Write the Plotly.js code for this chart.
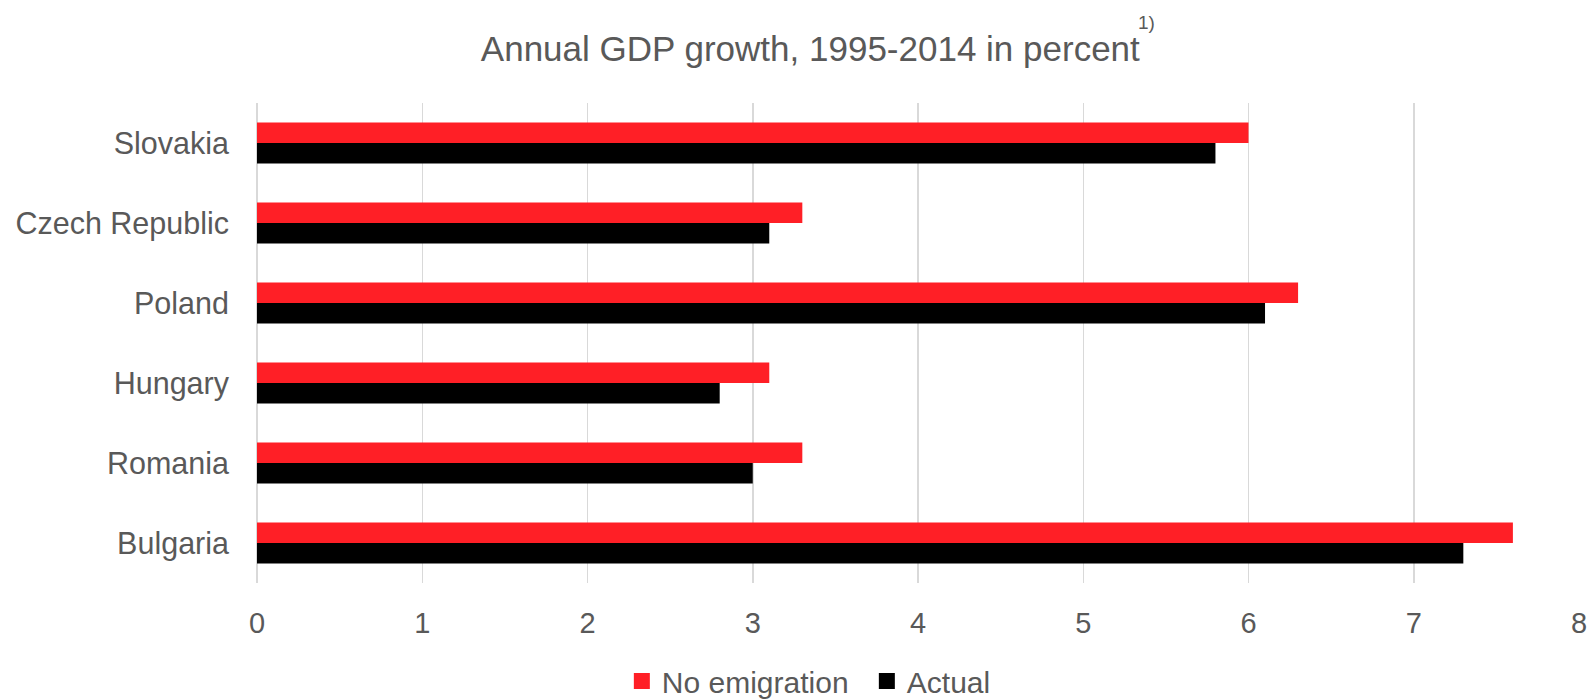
<!DOCTYPE html>
<html>
<head>
<meta charset="utf-8">
<script src="https://cdn.plot.ly/plotly-3.0.1.min.js"></script>
<style>html,body{margin:0;padding:0;background:#fff;}#chart{width:1592px;height:700px;}</style>
</head>
<body>
<div id="chart"></div>
<script>
var countries = ["Slovakia", "Czech Republic", "Poland", "Hungary", "Romania", "Bulgaria"];
var noEmigration = [6.0, 3.3, 6.3, 3.1, 3.3, 7.6];
var actual = [5.8, 3.1, 6.1, 2.8, 3.0, 7.3];
var xTicks = [0, 1, 2, 3, 4, 5, 6, 7, 8];
var seriesNames = ["No emigration", "Actual"];
var seriesColors = ["#FF1F26", "#000000"];

var FONT = "Liberation Sans, Arial, Helvetica, sans-serif";
var TXT = "#595959";

var traces = [
  {type: "bar", orientation: "h", name: seriesNames[0], y: countries, x: noEmigration,
   marker: {color: seriesColors[0], line: {width: 0}}, showlegend: false},
  {type: "bar", orientation: "h", name: seriesNames[1], y: countries, x: actual,
   marker: {color: seriesColors[1], line: {width: 0}}, showlegend: false},
  {type: "scatter", mode: "markers", name: seriesNames[0], x: [null], y: [null],
   marker: {symbol: "square", size: 16, color: seriesColors[0]}, showlegend: true},
  {type: "scatter", mode: "markers", name: seriesNames[1], x: [null], y: [null],
   marker: {symbol: "square", size: 16, color: seriesColors[1]}, showlegend: true}
];

var layout = {
  width: 1592, height: 700,
  paper_bgcolor: "#fff", plot_bgcolor: "#fff",
  margin: {l: 257, r: 13, t: 103, b: 117},
  font: {family: FONT, color: TXT, size: 30},
  title: {text: "Annual GDP growth, 1995-2014 in percent", font: {family: FONT, size: 35, color: TXT},
          x: 0.509, xref: "container", y: 0.93, yref: "container", xanchor: "center", yanchor: "middle"},
  annotations: [{text: "1)", xref: "paper", yref: "paper", x: 0.665, y: 1.168, showarrow: false,
                 font: {family: FONT, size: 19, color: TXT}, xanchor: "left", yanchor: "middle"}],
  barmode: "group", bargap: 0.49, bargroupgap: 0,
  xaxis: {range: [0, 8], tickvals: xTicks, showgrid: true, gridcolor: "#d9d9d9", gridwidth: 1.5,
          zeroline: true, zerolinecolor: "#d9d9d9", zerolinewidth: 1.5, showline: false,
          ticks: "", ticklabelstandoff: 20, tickfont: {size: 29, color: TXT, family: FONT}, fixedrange: true},
  yaxis: {autorange: "reversed", type: "category", showgrid: false, zeroline: false, showline: false,
          ticks: "", ticklabelstandoff: 27, tickfont: {size: 30.5, color: TXT, family: FONT}, fixedrange: true},
  showlegend: true,
  legend: {orientation: "h", x: 0.5445, xanchor: "center", xref: "container", y: 0.027, yref: "container", yanchor: "middle",
           font: {size: 30, color: TXT, family: FONT}, itemwidth: 30, traceorder: "normal",
           entrywidth: 200, entrywidthmode: "pixels"}
};

Plotly.newPlot("chart", traces, layout, {displayModeBar: false, staticPlot: true});
</script>
</body>
</html>
